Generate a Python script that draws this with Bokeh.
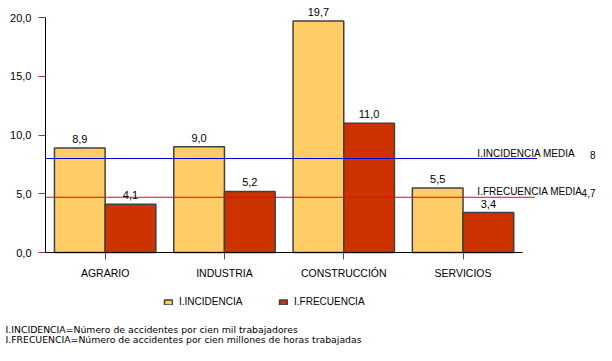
from bokeh.plotting import figure
from bokeh.models import (Range1d, FixedTicker, Legend, LegendItem, Label,
                          LabelSet, ColumnDataSource)
from bokeh.core.properties import value
from bokeh.embed import file_html
from bokeh.resources import INLINE

# ---- data ----
categories = ["AGRARIO", "INDUSTRIA", "CONSTRUCCIÓN", "SERVICIOS"]
incidencia = [8.9, 9.0, 19.7, 5.5]
frecuencia = [4.1, 5.2, 11.0, 3.4]
series_names = ["I.INCIDENCIA", "I.FRECUENCIA"]
incidencia_media = 8
frecuencia_media = 4.7
mean_names = ["I.INCIDENCIA MEDIA", "I.FRECUENCIA MEDIA"]
y_ticks = [0, 5, 10, 15, 20]
footnotes = [
    "I.INCIDENCIA=Número de accidentes por cien mil trabajadores",
    "I.FRECUENCIA=Número de accidentes por cien millones de horas trabajadas",
]

# ---- styles ----
FONT = "Liberation Sans"
YELLOW = "#FFCC66"
RED = "#CC3300"
OUTLINE = "#404040"
TICK = "#993333"
BAR_W = 0.425


def fmt1(v):
    return f"{v:.1f}".replace(".", ",")


def fmtg(v):
    return f"{v:g}".replace(".", ",")


n = len(categories)
centers = [i + 0.5 for i in range(n)]
x_inc = [c - BAR_W / 2 for c in centers]
x_fre = [c + BAR_W / 2 for c in centers]

src = ColumnDataSource(dict(
    x_inc=x_inc, x_fre=x_fre, inc=incidencia, fre=frecuencia,
    inc_lbl=[fmt1(v) for v in incidencia], fre_lbl=[fmt1(v) for v in frecuencia],
))

W, H = 596, 345
ORIGIN_X, ORIGIN_Y = 45, 252      # pixel position of (0, 0)
PX_X, PX_Y = 119.3, 11.75         # pixels per unit
p = figure(width=W, height=H, output_backend="svg", toolbar_location=None,
           x_range=Range1d(-ORIGIN_X / PX_X, (W - ORIGIN_X) / PX_X),
           y_range=Range1d(-(H - ORIGIN_Y) / PX_Y, ORIGIN_Y / PX_Y),
           min_border=0)
p.outline_line_color = None
p.grid.visible = False
p.background_fill_color = "white"
p.border_fill_color = "white"

r_inc = p.vbar(x="x_inc", top="inc", width=BAR_W, source=src,
               fill_color=YELLOW, line_color=OUTLINE, line_width=1.5)
r_fre = p.vbar(x="x_fre", top="fre", width=BAR_W, source=src,
               fill_color=RED, line_color=OUTLINE, line_width=1.5)

# mean lines
line_end = n + 0.12
p.segment(x0=[0], x1=[line_end], y0=[incidencia_media], y1=[incidencia_media],
          line_color="#0000CC", line_width=1)
p.segment(x0=[0], x1=[line_end - 0.02], y0=[frecuencia_media], y1=[frecuencia_media],
          line_color="#FF0000", line_width=1)

for name, val in zip(mean_names, [incidencia_media, frecuencia_media]):
    p.add_layout(Label(x=3.62, y=val, text=name, text_font=FONT,
                       text_font_size="10px", text_baseline="bottom",
                       y_offset=0, text_color="black"))
    p.add_layout(Label(x=4.61, y=val, text=fmtg(val), text_font=FONT,
                       text_font_size="10px", text_baseline="bottom",
                       text_align="right", y_offset=0, text_color="black"))

# value labels
for xc, yc, tc in [("x_inc", "inc", "inc_lbl"), ("x_fre", "fre", "fre_lbl")]:
    p.add_layout(LabelSet(x=xc, y=yc, text=tc, source=src, text_align="center",
                          text_baseline="bottom", y_offset=5,
                          text_font=value(FONT), text_font_size=value("11px"),
                          text_color="black"))

# axes (drawn at the origin inside the frame)
xa = p.xaxis[0]
xa.fixed_location = 0
xa.ticker = FixedTicker(ticks=centers)
xa.major_label_overrides = {c: lab for c, lab in zip(centers, categories)}
xa.bounds = (0, n)
xa.minor_tick_line_color = None
xa.major_tick_in = 0
xa.major_tick_out = 7
xa.major_tick_line_color = TICK
xa.axis_line_color = "black"
xa.major_label_text_font = FONT
xa.major_label_text_font_size = "10.5px"
xa.major_label_text_color = "black"
xa.major_label_standoff = 7

ya = p.yaxis[0]
ya.fixed_location = 0
ya.ticker = FixedTicker(ticks=y_ticks)
ya.major_label_overrides = {t: fmt1(t) for t in y_ticks}
ya.bounds = (y_ticks[0], y_ticks[-1])
ya.minor_tick_line_color = None
ya.major_tick_in = 0
ya.major_tick_out = 7
ya.major_tick_line_color = TICK
ya.axis_line_color = "black"
ya.major_label_text_font = FONT
ya.major_label_text_font_size = "11px"
ya.major_label_text_color = "black"
ya.major_label_standoff = 7

# legend
legend = Legend(items=[LegendItem(label=series_names[0], renderers=[r_inc]),
                       LegendItem(label=series_names[1], renderers=[r_fre])],
                orientation="horizontal", location=(163, 38),
                glyph_width=10, glyph_height=6, label_standoff=6,
                label_width=99, spacing=0, padding=0, margin=0,
                border_line_color=None, background_fill_alpha=0,
                label_text_font=FONT, label_text_font_size="10px",
                label_text_color="black")
p.add_layout(legend, "center")

# footnotes
for i, t in enumerate(footnotes):
    p.add_layout(Label(x=5, y=16 - 10 * i, x_units="screen", y_units="screen",
                       text=t, text_font="DejaVu Sans", text_font_size="9.3px",
                       text_baseline="middle", text_color="black"))

open("out.html", "w").write(file_html(p, INLINE))
